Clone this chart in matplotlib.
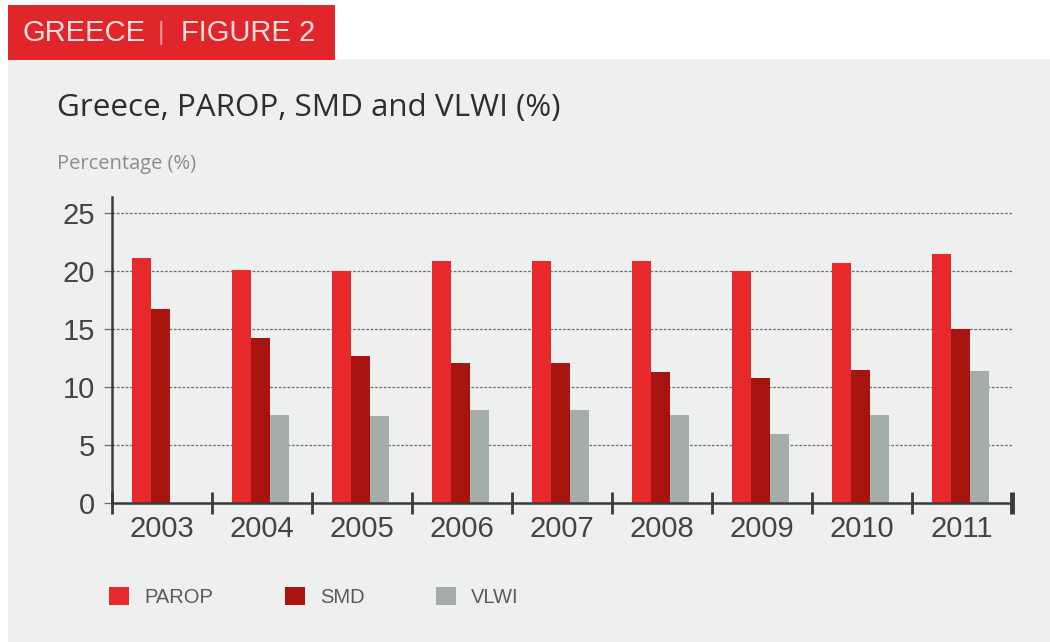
import numpy as np
import matplotlib.pyplot as plt
from matplotlib.patches import Rectangle

# data
years = ['2003', '2004', '2005', '2006', '2007', '2008', '2009', '2010', '2011']
parop = [21.1, 20.1, 20.0, 20.9, 20.9, 20.9, 20.0, 20.7, 21.5]
smd = [16.7, 14.2, 12.7, 12.1, 12.1, 11.3, 10.8, 11.5, 15.0]
vlwi = [np.nan, 7.6, 7.5, 8.0, 8.0, 7.6, 5.9, 7.6, 11.4]

series_names = ['PAROP', 'SMD', 'VLWI']
series_colors = ['#e8292b', '#a8140f', '#a5adaa']

W, H = 1050, 642
fig = plt.figure(figsize=(W / 100, H / 100), dpi=100, facecolor='white')

# grey panel and red header (drawn under everything else)
fig.patches.append(Rectangle((8 / W, 0), 1 - 8 / W, 1 - 59 / H, transform=fig.transFigure,
                             facecolor='#edf0ef', edgecolor='none', zorder=-10))
fig.patches.append(Rectangle((8 / W, 1 - 60 / H), 327 / W, 55 / H, transform=fig.transFigure,
                             facecolor='#e0262b', edgecolor='none', zorder=-10))
hdr_font = ['Liberation Sans', 'DejaVu Sans']
fig.text(22 / W, 1 - 33 / H, 'GREECE', fontsize=21, color='#fbe0e0', va='center', ha='left',
         family=hdr_font)
fig.text(161 / W, 1 - 33 / H, '|', fontsize=18, color='#ef9a9a', va='center', ha='center',
         family=hdr_font)
fig.text(181 / W, 1 - 33 / H, 'FIGURE 2', fontsize=21, color='#fbe0e0', va='center', ha='left',
         family=hdr_font)

fig.text(57 / W, 1 - 108 / H, 'Greece, PAROP, SMD and VLWI (%)', fontsize=22.6, color='#2e2e2e',
         va='center', ha='left', family=['Open Sans', 'DejaVu Sans'])
fig.text(57 / W, 1 - 164 / H, 'Percentage (%)', fontsize=14.5, color='#8c8c8c',
         va='center', ha='left', family=['Open Sans', 'DejaVu Sans'])

ax = fig.add_axes([111.7 / W, 1 - 502.7 / H, 900 / W, (502.7 - 197) / H])
ax.set_facecolor('none')

x = np.arange(len(years))
width = 0.19
offsets = [-width, 0, width]
for vals, off, col, name in zip([parop, smd, vlwi], offsets, series_colors, series_names):
    ax.bar(x + off - 0.01, vals, width, color=col, edgecolor='none', zorder=3, label=name)

ax.set_xlim(-0.5, len(years) - 0.5)
ax.set_ylim(0, 26.4)
ax.set_yticks([0, 5, 10, 15, 20, 25])
ax.set_xticks(x)
ax.set_xticklabels(years)
ax.set_xticks(np.arange(len(years) + 1) - 0.5, minor=True)

ax.yaxis.grid(True, linestyle=(0, (2.2, 1.3)), color='#6f6f6f', linewidth=0.9, zorder=1)
ax.tick_params(axis='y', length=6, width=0.9, color='#6f6f6f', labelsize=21, labelcolor='#444444', pad=6)
ax.tick_params(axis='x', which='major', length=0, labelsize=21, labelcolor='#444444', pad=9)
ax.tick_params(axis='x', which='minor', direction='inout', length=16, width=2, color='#3a3a3a')
for lab in ax.get_xticklabels() + ax.get_yticklabels():
    lab.set_family(['Liberation Sans', 'DejaVu Sans'])
# the closing tick at the right end is heavier
ax.xaxis.get_minor_ticks()[-1].tick1line.set_markeredgewidth(3.5)

for s in ['top', 'right']:
    ax.spines[s].set_visible(False)
for s in ['left', 'bottom']:
    ax.spines[s].set_color('#3a3a3a')
    ax.spines[s].set_linewidth(1.8)
    ax.spines[s].set_zorder(4)

handles, labels = ax.get_legend_handles_labels()
leg = fig.legend(handles, labels, loc='center left', bbox_to_anchor=(91 / W, 1 - 597 / H),
                 ncol=3, frameon=False, handlelength=1.0, handleheight=1.0,
                 handletextpad=0.75, columnspacing=3.55, labelcolor='#5a5a5a',
                 prop={'family': ['Liberation Sans', 'DejaVu Sans'], 'size': 14.5})

fig.savefig('out.png', dpi=100, facecolor='white')
